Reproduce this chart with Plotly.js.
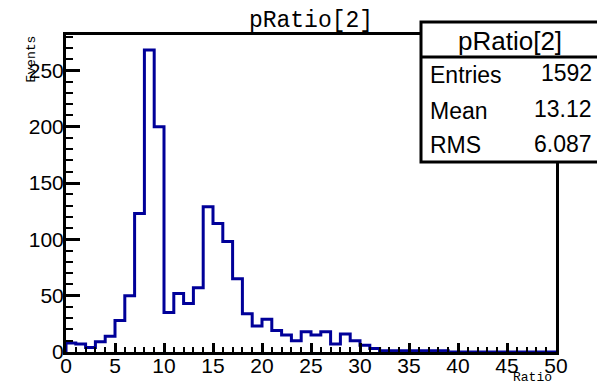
<!DOCTYPE html>
<html>
<head>
<meta charset="utf-8">
<script src="https://cdn.plot.ly/plotly-3.0.1.min.js"></script>
<style>
  html, body { margin: 0; padding: 0; background: #ffffff; }
  #chart { width: 597px; height: 384px; }
</style>
</head>
<body>
<div id="chart"></div>
<script>
// pRatio[2] histogram: 50 bins of width 1 spanning [0, 50]
const histName = 'pRatio[2]';
const binLow = 0;
const binWidth = 1;
const binCounts = [
  8, 7, 4, 9, 14, 28, 50, 123, 268, 200,
  35, 52, 43, 57, 129, 114, 98, 65, 34, 23,
  29, 19, 15, 10, 18, 15, 18, 7, 16, 10,
  6, 3, 1, 1, 1, 1, 1, 1, 1, 0,
  0, 0, 0, 0, 0, 0, 0, 0, 0, 0
];
const statLabels = ['Entries', 'Mean', 'RMS'];
const statValues = ['1592', '13.12', '6.087'];
const xTitle = 'Ratio';
const yTitle = 'Events';

// Page geometry (pixels) and helpers to convert into paper coordinates
const W = 597, H = 384;
const M = { l: 66, r: 41, t: 35, b: 32 };
const PW = W - M.l - M.r;
const PH = H - M.t - M.b;
const px = p => (p - M.l) / PW;
const py = p => (H - M.b - p) / PH;

// Step outline built from bin edges, ROOT style
const nBins = binCounts.length;
const edgeX = [binLow];
const edgeY = [0];
for (let i = 0; i < nBins; i++) {
  edgeX.push(binLow + i * binWidth);
  edgeY.push(binCounts[i]);
}
edgeX.push(binLow + nBins * binWidth);
edgeY.push(binCounts[nBins - 1]);

const yMax = Math.max(...binCounts) * 1.05;

const trace = {
  type: 'scatter',
  mode: 'lines',
  x: edgeX,
  y: edgeY,
  line: { shape: 'hv', color: '#000099', width: 3 },
  hoverinfo: 'skip'
};

const sans = 'Liberation Sans, Arial, Helvetica, sans-serif';
const mono = 'Courier New, Liberation Mono, monospace';

const axisBase = {
  showline: true,
  linewidth: 3,
  linecolor: '#000000',
  mirror: true,
  showgrid: false,
  zeroline: false,
  ticks: 'inside',
  tickcolor: '#000000',
  tickwidth: 3,
  tickfont: { family: sans, size: 21, color: '#000000' }
};

// Statistics box rows
const rowLabelY = [75, 111, 145];
const rowValueY = [73, 109, 143.5];
const annotations = [];
annotations.push({
  text: histName, xref: 'paper', yref: 'paper',
  x: px(510), y: py(41), xanchor: 'center', yanchor: 'middle',
  showarrow: false, font: { family: sans, size: 26, color: '#000000' }
});
statLabels.forEach((lab, i) => {
  annotations.push({
    text: lab, xref: 'paper', yref: 'paper',
    x: px(428), y: py(rowLabelY[i]), xanchor: 'left', yanchor: 'middle',
    showarrow: false, font: { family: sans, size: 23, color: '#000000' }
  });
  annotations.push({
    text: statValues[i], xref: 'paper', yref: 'paper',
    x: px(594), y: py(rowValueY[i]), xanchor: 'right', yanchor: 'middle',
    showarrow: false, font: { family: sans, size: 23, color: '#000000' }
  });
});
// Axis titles, aligned to the axis ends
annotations.push({
  text: xTitle, xref: 'paper', yref: 'paper',
  x: px(554), y: py(377), xanchor: 'right', yanchor: 'middle',
  showarrow: false, font: { family: mono, size: 13, color: '#000000' }
});
annotations.push({
  text: yTitle, xref: 'paper', yref: 'paper', textangle: -90,
  x: px(31), y: py(34), xanchor: 'center', yanchor: 'top',
  showarrow: false, font: { family: mono, size: 13, color: '#000000' }
});

const layout = {
  width: W,
  height: H,
  margin: M,
  paper_bgcolor: '#ffffff',
  plot_bgcolor: '#ffffff',
  showlegend: false,
  title: {
    text: histName,
    font: { family: mono, size: 23, color: '#000000' },
    x: 0.5, xref: 'paper', xanchor: 'center',
    y: 1 - 19 / H, yref: 'container', yanchor: 'middle'
  },
  xaxis: Object.assign({}, axisBase, {
    range: [binLow, binLow + nBins * binWidth],
    tick0: 0, dtick: 5, ticklen: 9,
    ticklabelstandoff: -7,
    minor: { dtick: 1, ticks: 'inside', ticklen: 5, tickwidth: 2, tickcolor: '#000000', showgrid: false }
  }),
  yaxis: Object.assign({}, axisBase, {
    range: [0, yMax],
    tick0: 0, dtick: 50, ticklen: 14,
    ticklabelstandoff: -5,
    minor: { dtick: 10, ticks: 'inside', ticklen: 7, tickwidth: 2, tickcolor: '#000000', showgrid: false }
  }),
  shapes: [
    {
      type: 'rect', xref: 'paper', yref: 'paper', layer: 'above',
      x0: px(421), x1: px(600), y0: py(162), y1: py(22),
      fillcolor: '#ffffff', line: { color: '#000000', width: 3 }
    },
    {
      type: 'line', xref: 'paper', yref: 'paper', layer: 'above',
      x0: px(421), x1: px(600), y0: py(57), y1: py(57),
      line: { color: '#000000', width: 3 }
    }
  ],
  annotations: annotations
};

Plotly.newPlot('chart', [trace], layout, { displayModeBar: false, staticPlot: true });
</script>
</body>
</html>
